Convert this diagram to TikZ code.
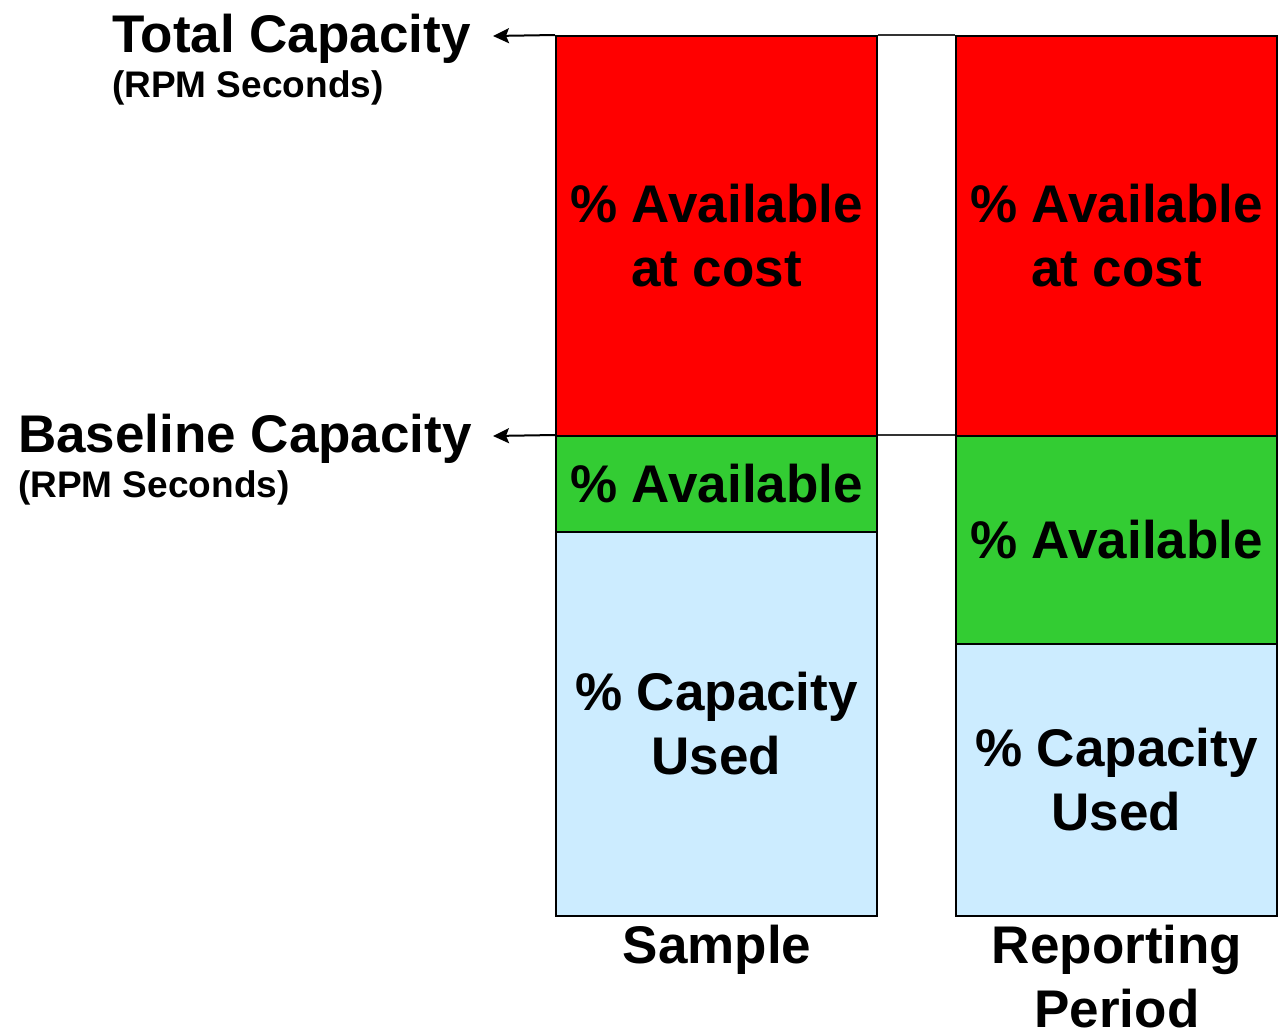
\documentclass[tikz,border=0pt]{standalone}
\usepackage{fontspec}
\setmainfont{Liberation Sans}
\usetikzlibrary{arrows.meta}
\definecolor{barred}{HTML}{FF0000}
\definecolor{bargreen}{HTML}{33CC33}
\definecolor{barblue}{HTML}{CCECFF}
\begin{document}
\begin{tikzpicture}[x=1pt,y=-1pt,
  bar/.style={draw=black, line width=2pt, inner sep=0pt, minimum width=321pt},
  lbl/.style={font=\bfseries\fontsize{53}{64}\selectfont, align=center, inner sep=0pt},
  big/.style={font=\bfseries\fontsize{53}{64}\selectfont, inner sep=0pt},
  small/.style={font=\bfseries\fontsize{37}{44}\selectfont, inner sep=0pt},
  pointer/.style={draw=black, line width=2pt, arrows={-Stealth[length=16pt, width=15pt, inset=3pt]}},
  joinline/.style={line width=1.5pt, draw=black!80}]
\useasboundingbox (0,0) rectangle (1278,1028);
% left bar (Sample)
\node[bar, fill=barred,   minimum height=400pt] (sred)   at (716.5,236) {};
\node[bar, fill=bargreen, minimum height=96pt]  (sgreen) at (716.5,484) {};
\node[bar, fill=barblue,  minimum height=384pt] (sblue)  at (716.5,724) {};
% right bar (Reporting Period)
\node[bar, fill=barred,   minimum height=400pt] (rred)   at (1116.5,236) {};
\node[bar, fill=bargreen, minimum height=208pt] (rgreen) at (1116.5,540) {};
\node[bar, fill=barblue,  minimum height=272pt] (rblue)  at (1116.5,780) {};
% bar texts
\node[lbl] (sredt)   at (sred)   {\% Available\\at cost};
\node[lbl] (sgreent) at (sgreen) {\% Available};
\node[lbl] (sbluet)  at (sblue)  {\% Capacity\\Used};
\node[lbl] (rredt)   at (rred)   {\% Available\\at cost};
\node[lbl] (rgreent) at (rgreen) {\% Available};
\node[lbl] (rbluet)  at (rblue)  {\% Capacity\\Used};
% bottom labels
\node[lbl, anchor=north] (sample) at (717,925) {Sample};
\node[lbl, anchor=north] (report) at (1117,925) {Reporting\\Period};
% left labels
\node[big, anchor=base west] (total) at (112,52) {Total Capacity};
\node[small, anchor=base west] (totalu) at (112,97) {(RPM Seconds)};
\node[big, anchor=base west] (base) at (18,452) {Baseline Capacity};
\node[small, anchor=base west] (baseu) at (18,497) {(RPM Seconds)};
% pointers
\coordinate (ttip) at (493,36);
\coordinate (btip) at (493,436);
\draw[pointer] (sred.north west) -- (ttip);
\draw[pointer] (sgreen.north west) -- (btip);
\draw[joinline] (sred.north east) -- (rred.north west);
\draw[joinline] (sgreen.north east) -- (rgreen.north west);
\end{tikzpicture}
\end{document}
